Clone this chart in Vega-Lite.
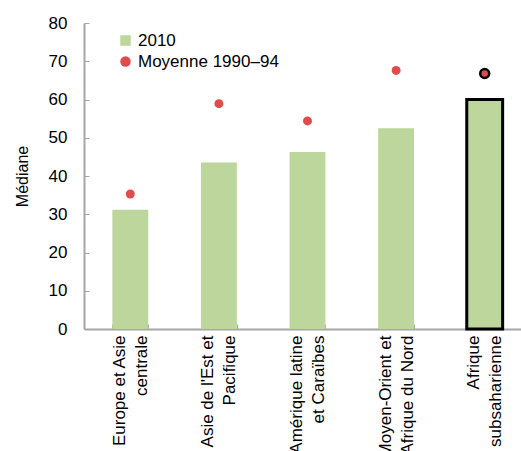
{
  "$schema": "https://vega.github.io/schema/vega-lite/v6.json",
  "width": 447,
  "height": 306,
  "padding": {"left": 14, "top": 14, "right": 0, "bottom": 5},
  "background": "white",
  "config": {
    "font": "Liberation Sans",
    "view": {"stroke": null},
    "axis": {"domainColor": "#a6a6a6", "tickColor": "#a6a6a6", "labelColor": "black", "titleColor": "black", "labelFont": "Liberation Sans", "titleFont": "Liberation Sans"}
  },
  "data": {
    "values": [
      {"region": "Europe et Asie|centrale", "series": "2010", "value": 31.2},
      {"region": "Asie de l'Est et|Pacifique", "series": "2010", "value": 43.5},
      {"region": "Amérique latine|et Caraïbes", "series": "2010", "value": 46.3},
      {"region": "Moyen-Orient et|Afrique du Nord", "series": "2010", "value": 52.5},
      {"region": "Afrique|subsaharienne", "series": "2010", "value": 60.0},
      {"region": "Europe et Asie|centrale", "series": "Moyenne 1990–94", "value": 35.3},
      {"region": "Asie de l'Est et|Pacifique", "series": "Moyenne 1990–94", "value": 58.9},
      {"region": "Amérique latine|et Caraïbes", "series": "Moyenne 1990–94", "value": 54.4},
      {"region": "Moyen-Orient et|Afrique du Nord", "series": "Moyenne 1990–94", "value": 67.6},
      {"region": "Afrique|subsaharienne", "series": "Moyenne 1990–94", "value": 66.8}
    ]
  },
  "encoding": {
    "x": {
      "field": "region", "type": "nominal", "sort": null,
      "scale": {"paddingInner": 0.595, "paddingOuter": 0.32},
      "axis": {"title": null, "labelAngle": -90, "labelAlign": "right", "labelBaseline": "middle", "labelFontSize": 17, "labelLineHeight": 22, "labelOffset": -11, "labelExpr": "split(datum.label, '|')", "tickBand": "extent", "tickSize": -5, "labelPadding": 11, "domainWidth": 2, "labelOverlap": false}
    },
    "y": {
      "field": "value", "type": "quantitative",
      "scale": {"domain": [0, 80]},
      "axis": {"title": "Médiane", "titleFontSize": 16, "titleFontWeight": "normal", "titlePadding": 18, "values": [0,10,20,30,40,50,60,70,80], "grid": false, "labelFontSize": 17, "labelOverlap": false, "tickSize": -5, "labelPadding": 22, "domainWidth": 2}
    },
    "color": {
      "field": "series", "type": "nominal",
      "scale": {"domain": ["2010", "Moyenne 1990–94"], "range": ["#bdd69b", "#e04b4b"]},
      "legend": {"title": null, "orient": "none", "legendX": 33, "legendY": 9, "labelFontSize": 17, "symbolSize": 110, "rowPadding": 3, "labelOffset": 4}
    }
  },
  "layer": [
    {
      "transform": [{"filter": "datum.series == '2010'"}],
      "mark": {"type": "bar", "opacity": 1},
      "encoding": {
        "stroke": {"condition": {"test": "datum.region == 'Afrique|subsaharienne'", "value": "black"}, "value": null},
        "strokeWidth": {"condition": {"test": "datum.region == 'Afrique|subsaharienne'", "value": 3}, "value": 0}
      }
    },
    {
      "transform": [{"filter": "datum.series != '2010'"}],
      "mark": {"type": "point", "filled": true, "opacity": 1, "size": 80},
      "encoding": {
        "shape": {"field": "series", "type": "nominal", "scale": {"domain": ["2010", "Moyenne 1990–94"], "range": ["square", "circle"]}, "legend": {"title": null}},
        "stroke": {"condition": {"test": "datum.region == 'Afrique|subsaharienne'", "value": "black"}, "value": null},
        "strokeWidth": {"condition": {"test": "datum.region == 'Afrique|subsaharienne'", "value": 2.5}, "value": 0}
      }
    }
  ]
}
